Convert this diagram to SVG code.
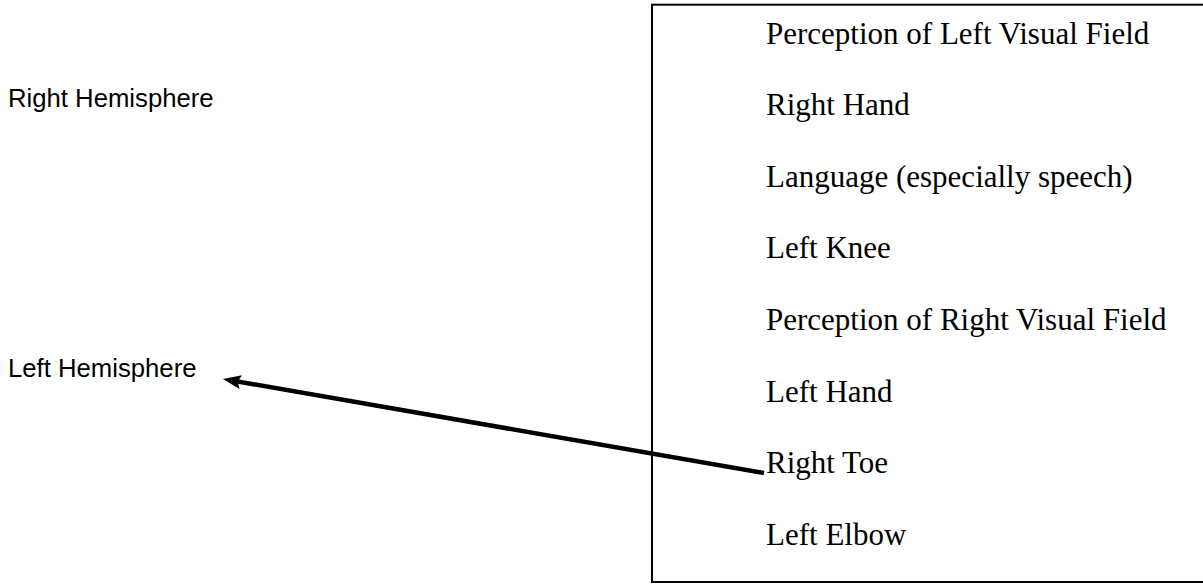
<svg xmlns="http://www.w3.org/2000/svg" width="1203" height="585" viewBox="0 0 1203 585">
  <style>
    .hemi { font-family: "Liberation Sans", Arial, sans-serif; font-size: 25.7px; fill: #000; }
    .item { font-family: "Liberation Serif", "Times New Roman", serif; font-size: 31px; fill: #000; }
    .frame { fill: #fff; stroke: #000; stroke-width: 2; }
    .link { fill: none; stroke: #000; stroke-width: 4.5; stroke-linecap: butt; }
  </style>
  <defs>
    <marker id="arrowhead" markerUnits="userSpaceOnUse" markerWidth="20" markerHeight="16" refX="6" refY="8" orient="auto">
      <path d="M0,1 L18,8 L0,15 L3,8 z" fill="#000"/>
    </marker>
  </defs>
  <rect width="1203" height="585" fill="#fff"/>

  <!-- hemisphere labels -->
  <g id="right-hemisphere">
    <text class="hemi" x="8" y="106.5">Right Hemisphere</text>
  </g>
  <g id="left-hemisphere">
    <text class="hemi" x="8" y="376.5">Left Hemisphere</text>
  </g>

  <!-- list of functions -->
  <g id="function-list">
    <rect class="frame" x="652" y="4.7" width="552" height="577.3"/>
    <text class="item" x="766" y="43.5">Perception of Left Visual Field</text>
    <text class="item" x="766" y="115">Right Hand</text>
    <text class="item" x="766" y="186.7">Language (especially speech)</text>
    <text class="item" x="766" y="258.3">Left Knee</text>
    <text class="item" x="766" y="330">Perception of Right Visual Field</text>
    <text class="item" x="766" y="401.7">Left Hand</text>
    <text class="item" x="766" y="473.3">Right Toe</text>
    <text class="item" x="766" y="545">Left Elbow</text>
  </g>

  <!-- connectors -->
  <g id="connectors">
    <path class="link" d="M764,473 L234.8,381" marker-end="url(#arrowhead)"/>
  </g>
</svg>
